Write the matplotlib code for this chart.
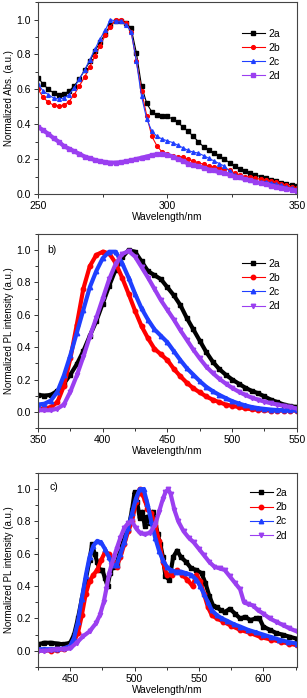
import matplotlib
matplotlib.use('Agg')
import matplotlib.pyplot as plt
from matplotlib.ticker import MultipleLocator

plt.rcParams['font.family'] = ['Liberation Sans', 'DejaVu Sans']

labels = ['2a', '2b', '2c', '2d']
colors = ['#000000', '#ff0000', '#1f3fff', '#9b3ff0']

# ---- a) absorption, 2 nm steps
abs_wl = [250, 252, 254, 256, 258, 260, 262, 264, 266, 268, 270, 272, 274, 276, 278,
          280, 282, 284, 286, 288, 290, 292, 294, 296, 298, 300, 302, 304, 306, 308,
          310, 312, 314, 316, 318, 320, 322, 324, 326, 328, 330, 332, 334, 336, 338,
          340, 342, 344, 346, 348, 350]
abs_2a = [0.667, 0.63, 0.60, 0.58, 0.57, 0.575, 0.59, 0.62, 0.66, 0.71, 0.76, 0.82, 0.87, 0.92, 0.97,
          0.99, 0.99, 0.98, 0.95, 0.81, 0.62, 0.52, 0.47, 0.455, 0.45, 0.445, 0.43, 0.41, 0.385, 0.36,
          0.33, 0.30, 0.27, 0.25, 0.235, 0.22, 0.20, 0.18, 0.16, 0.145, 0.13, 0.12, 0.11, 0.10, 0.09,
          0.08, 0.075, 0.065, 0.06, 0.05, 0.045]
abs_2b = [0.60, 0.555, 0.525, 0.51, 0.505, 0.51, 0.53, 0.57, 0.62, 0.67, 0.73, 0.79, 0.85, 0.91, 0.96,
          1.0, 0.995, 0.98, 0.93, 0.76, 0.59, 0.45, 0.33, 0.275, 0.24, 0.23, 0.22, 0.215, 0.21, 0.20,
          0.19, 0.18, 0.17, 0.16, 0.155, 0.15, 0.145, 0.14, 0.12, 0.11, 0.10, 0.095, 0.09, 0.085, 0.08,
          0.075, 0.07, 0.06, 0.05, 0.04, 0.034]
abs_2c = [0.63, 0.59, 0.57, 0.55, 0.545, 0.55, 0.57, 0.61, 0.66, 0.71, 0.77, 0.83, 0.89, 0.94, 1.0,
          0.99, 0.99, 0.97, 0.93, 0.76, 0.56, 0.43, 0.36, 0.33, 0.315, 0.305, 0.295, 0.28, 0.265, 0.25,
          0.24, 0.235, 0.22, 0.205, 0.19, 0.175, 0.16, 0.13, 0.11, 0.095, 0.085, 0.08, 0.075, 0.07, 0.07,
          0.065, 0.055, 0.05, 0.04, 0.035, 0.03]
abs_2d = [0.385, 0.365, 0.345, 0.32, 0.30, 0.275, 0.26, 0.245, 0.23, 0.215, 0.205, 0.195, 0.188, 0.183, 0.18,
          0.18, 0.182, 0.187, 0.193, 0.20, 0.208, 0.215, 0.222, 0.228, 0.23, 0.225, 0.215, 0.20, 0.19, 0.175,
          0.165, 0.16, 0.15, 0.14, 0.135, 0.125, 0.12, 0.11, 0.10, 0.095, 0.085, 0.078, 0.07, 0.062, 0.055,
          0.048, 0.042, 0.036, 0.03, 0.025, 0.02]

# ---- b) PL in solution, 5 nm steps
pl_wl = [350, 355, 360, 365, 370, 375, 380, 385, 390, 395, 400, 405, 410, 415, 420, 425, 430,
         435, 440, 445, 450, 455, 460, 465, 470, 475, 480, 485, 490, 495, 500, 505, 510, 515,
         520, 525, 530, 535, 540, 545, 550]
pl_2a = [0.105, 0.10, 0.105, 0.13, 0.175, 0.23, 0.295, 0.375, 0.47, 0.56, 0.67, 0.78, 0.88, 0.955, 1.0,
         0.99, 0.93, 0.87, 0.845, 0.82, 0.77, 0.72, 0.66, 0.58, 0.51, 0.44, 0.37, 0.31, 0.265, 0.23,
         0.20, 0.175, 0.15, 0.13, 0.115, 0.095, 0.075, 0.06, 0.045, 0.035, 0.03]
pl_2b = [0.02, 0.02, 0.03, 0.06, 0.16, 0.33, 0.54, 0.76, 0.90, 0.97, 0.99, 0.98, 0.92, 0.83, 0.73,
         0.625, 0.53, 0.455, 0.39, 0.355, 0.32, 0.265, 0.22, 0.18, 0.146, 0.12, 0.095, 0.075, 0.06, 0.045,
         0.037, 0.03, 0.022, 0.016, 0.012, 0.01, 0.008, 0.008, 0.008, 0.008, 0.008]
pl_2c = [0.045, 0.05, 0.07, 0.125, 0.225, 0.35, 0.49, 0.63, 0.77, 0.87, 0.95, 0.99, 0.99, 0.92, 0.83,
         0.73, 0.64, 0.57, 0.51, 0.47, 0.43, 0.375, 0.32, 0.27, 0.23, 0.19, 0.155, 0.128, 0.105, 0.085,
         0.066, 0.052, 0.04, 0.03, 0.023, 0.018, 0.014, 0.011, 0.01, 0.01, 0.01]
pl_2d = [0.01, 0.01, 0.01, 0.02, 0.045, 0.125, 0.225, 0.34, 0.465, 0.58, 0.70, 0.82, 0.915, 0.975, 0.995,
         0.96, 0.895, 0.83, 0.76, 0.69, 0.63, 0.57, 0.505, 0.445, 0.385, 0.33, 0.28, 0.24, 0.205, 0.175,
         0.148, 0.125, 0.105, 0.088, 0.075, 0.063, 0.053, 0.045, 0.037, 0.03, 0.02]

# ---- c) PL in solid state
sol_wl_2a = [425, 430, 435, 440, 445, 450, 453, 456, 459, 462, 465, 467, 469, 471, 473, 475,
             477, 479, 481, 483, 486, 489, 492, 495, 498, 500, 502, 504, 506, 508, 510, 512,
             514, 516, 518, 520, 522, 524, 527, 530, 533, 536, 540, 544, 548, 552, 555, 558,
             561, 564, 567, 570, 574, 578, 582, 586, 590, 594, 597, 600, 605, 610, 615, 620, 626]
sol_2a = [0.04, 0.05, 0.05, 0.045, 0.04, 0.05, 0.1, 0.2, 0.32, 0.44, 0.56, 0.66, 0.6, 0.55, 0.5, 0.5,
          0.45, 0.4, 0.48, 0.52, 0.54, 0.62, 0.7, 0.75, 0.87, 0.98, 0.92, 0.82, 0.86, 0.77, 0.83, 0.79,
          0.86, 0.8, 0.72, 0.66, 0.58, 0.46, 0.44, 0.58, 0.62, 0.58, 0.55, 0.51, 0.5, 0.48, 0.42, 0.34,
          0.28, 0.27, 0.25, 0.24, 0.26, 0.23, 0.2, 0.21, 0.19, 0.2, 0.2, 0.15, 0.13, 0.11, 0.1, 0.088, 0.075]
sol_wl_2b = [425, 430, 435, 440, 445, 450, 453, 456, 459, 462, 465, 468, 471, 474, 477, 480,
             483, 486, 489, 492, 495, 498, 501, 504, 506, 508, 510, 513, 516, 519, 522, 525,
             529, 533, 537, 541, 545, 548, 551, 554, 557, 560, 564, 569, 575, 582, 590, 598,
             606, 614, 620, 626]
sol_2b = [0.005, 0.005, 0.0, 0.005, 0.01, 0.03, 0.06, 0.11, 0.22, 0.35, 0.43, 0.47, 0.5, 0.56, 0.61, 0.6,
          0.55, 0.52, 0.58, 0.66, 0.74, 0.8, 0.92, 1.0, 0.97, 0.93, 0.88, 0.85, 0.78, 0.68, 0.55, 0.47,
          0.47, 0.5, 0.47, 0.44, 0.4, 0.47, 0.43, 0.35, 0.27, 0.22, 0.2, 0.18, 0.155, 0.13, 0.11, 0.085,
          0.07, 0.055, 0.045, 0.035]
sol_wl_2c = [425, 430, 435, 440, 445, 450, 453, 456, 459, 462, 465, 468, 471, 474, 477, 480,
             483, 486, 489, 492, 495, 498, 501, 504, 507, 510, 513, 516, 519, 522, 525, 528,
             532, 536, 540, 544, 548, 551, 554, 557, 560, 564, 568, 572, 577, 582, 588, 594,
             600, 606, 612, 619, 626]
sol_2c = [0.01, 0.01, 0.01, 0.01, 0.015, 0.03, 0.08, 0.18, 0.32, 0.46, 0.58, 0.65, 0.68, 0.67, 0.63, 0.58,
          0.53, 0.53, 0.6, 0.67, 0.76, 0.85, 0.94, 1.0, 1.0, 0.91, 0.8, 0.7, 0.62, 0.56, 0.52, 0.5,
          0.49, 0.49, 0.48, 0.47, 0.44, 0.4, 0.35, 0.3, 0.25, 0.22, 0.2, 0.185, 0.165, 0.15, 0.13, 0.115,
          0.1, 0.085, 0.07, 0.055, 0.045]
sol_wl_2d = [425, 430, 435, 440, 445, 450, 455, 460, 465, 470, 473, 476, 478, 480, 482, 484,
             486, 489, 492, 495, 498, 501, 504, 508, 512, 516, 519, 522, 524, 526, 528, 531,
             534, 538, 542, 546, 550, 554, 558, 562, 566, 570, 574, 578, 582, 585, 588, 592,
             596, 600, 605, 610, 615, 620, 626]
sol_2d = [0.0, 0.0, 0.005, 0.01, 0.01, 0.015, 0.05, 0.09, 0.12, 0.17, 0.22, 0.3, 0.38, 0.47, 0.53, 0.58,
          0.63, 0.7, 0.76, 0.79, 0.8, 0.76, 0.73, 0.72, 0.73, 0.78, 0.86, 0.94, 0.98, 1.0, 0.97, 0.87,
          0.8, 0.74, 0.7, 0.67, 0.63, 0.59, 0.55, 0.52, 0.51, 0.5, 0.46, 0.42, 0.38, 0.3, 0.29, 0.28,
          0.25, 0.23, 0.2, 0.18, 0.16, 0.14, 0.12]

fig = plt.figure(figsize=(3.07, 6.98), dpi=100)
ax_a = fig.add_axes([0.1238, 0.722, 0.843, 0.275])
ax_b = fig.add_axes([0.1238, 0.3868, 0.843, 0.278])
ax_c = fig.add_axes([0.1238, 0.0444, 0.843, 0.278])


def draw(ax, xs, ys, band, ms, markers):
    for i in range(4):
        if band[i]:
            ax.plot(xs[i], ys[i], color=colors[i], lw=3.0, solid_joinstyle='round')
        ax.plot(xs[i], ys[i], color=colors[i], marker=markers[i], ms=ms[i], lw=0.8,
                label=labels[i])


def style(ax, xlim, ylim, xmaj, ylabel, legend_pos):
    ax.set_xlim(*xlim)
    ax.set_ylim(*ylim)
    ax.xaxis.set_major_locator(MultipleLocator(xmaj))
    ax.xaxis.set_minor_locator(MultipleLocator(xmaj / 2))
    ax.yaxis.set_minor_locator(MultipleLocator(0.1))
    ax.set_yticks([0.0, 0.2, 0.4, 0.6, 0.8, 1.0])
    ax.tick_params(which='both', direction='out', labelsize=7.5, color='#333333', width=0.7)
    ax.tick_params(which='major', length=3, pad=2)
    ax.tick_params(which='minor', length=2)
    ax.tick_params(top=False, right=False)
    for s in ax.spines.values():
        s.set_color('#444444')
        s.set_linewidth(0.8)
    ax.set_xlabel('Wavelength/nm', fontsize=7.3, labelpad=1)
    ax.set_ylabel(ylabel, fontsize=7, labelpad=2)
    ax.legend(loc='upper left', bbox_to_anchor=legend_pos, frameon=False, fontsize=7.5,
              handlelength=2.2, handletextpad=0.3, labelspacing=0.4, borderpad=0.2)


draw(ax_a, [abs_wl] * 4, [abs_2a, abs_2b, abs_2c, abs_2d],
     [False, False, False, True], [2.4, 2.7, 2.7, 2.8], ['s', 'o', '^', 's'])
style(ax_a, (250, 350), (0, 1.1), 50, 'Normalized Abs. (a.u.)', (0.76, 0.9))

draw(ax_b, [pl_wl] * 4, [pl_2a, pl_2b, pl_2c, pl_2d],
     [True, True, True, True], [3.0, 3.2, 3.2, 3.2], ['s', 'o', '^', 'v'])
style(ax_b, (350, 550), (-0.1, 1.1), 50, 'Normalized PL intensity (a.u.)', (0.76, 0.91))
ax_b.text(0.035, 0.915, 'b)', transform=ax_b.transAxes, fontsize=7.5, va='center')

draw(ax_c, [sol_wl_2a, sol_wl_2b, sol_wl_2c, sol_wl_2d], [sol_2a, sol_2b, sol_2c, sol_2d],
     [True, True, True, True], [3.0, 3.2, 3.2, 3.2], ['s', 'o', '^', 'v'])
style(ax_c, (425, 626), (-0.1, 1.1), 50, 'Normalized PL intensity (a.u.)', (0.79, 0.96))
ax_c.text(0.045, 0.93, 'c)', transform=ax_c.transAxes, fontsize=7.5, va='center')

fig.savefig('out.png', dpi=100)
